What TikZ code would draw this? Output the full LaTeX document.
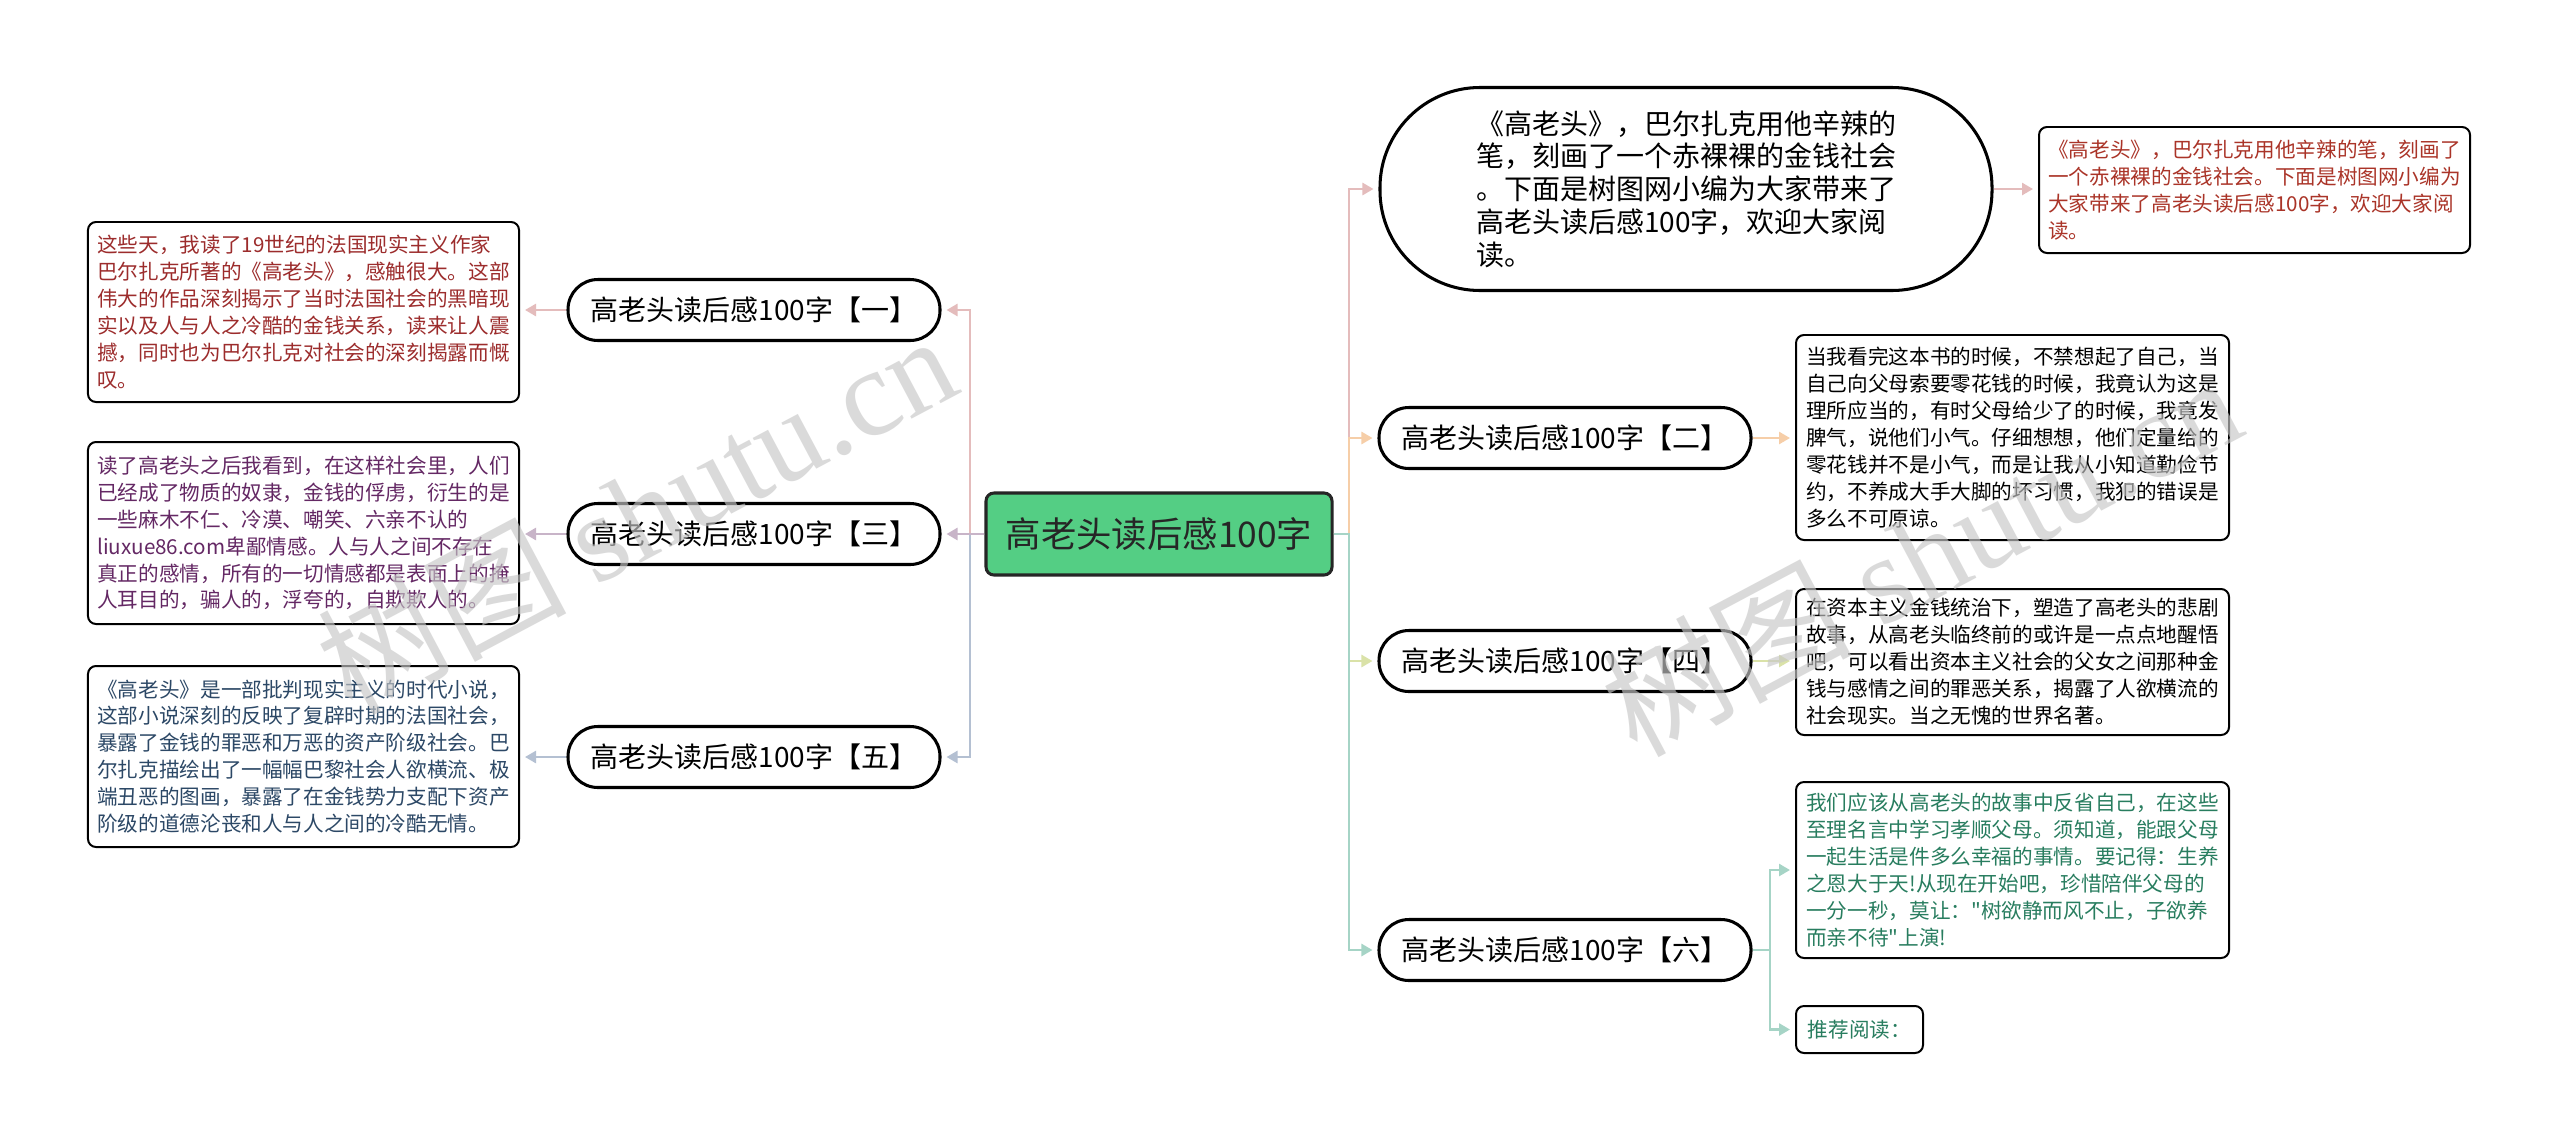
\documentclass[tikz,border=0pt]{standalone}
\usepackage{fontspec}
\setmainfont{Noto Sans CJK SC}
\newfontfamily\cjkplain{Noto Sans CJK SC}
\newfontfamily\wmserif{Liberation Serif}
\usetikzlibrary{arrows.meta}
\definecolor{rootgreen}{RGB}{84,206,132}
\definecolor{linkred}{RGB}{228,188,188}
\definecolor{linkpurple}{RGB}{200,180,200}
\definecolor{linkblue}{RGB}{180,192,210}
\definecolor{linkorange}{RGB}{246,206,168}
\definecolor{linkolive}{RGB}{218,226,168}
\definecolor{linkteal}{RGB}{166,212,198}
\definecolor{textred}{RGB}{156,44,44}
\definecolor{textpurple}{RGB}{100,40,100}
\definecolor{textblue}{RGB}{44,72,102}
\definecolor{textredtop}{RGB}{170,52,40}
\definecolor{textteal}{RGB}{40,125,95}

\begin{document}
\begin{tikzpicture}[x=0.03cm, y=-0.03cm,
    root/.style={draw=black!85, fill=rootgreen, line width=2.6pt, rounded corners=0.24cm,
      minimum width=10.38cm, minimum height=2.46cm, text=black!85,
      font=\fontsize{30.2}{36}\selectfont},
    pill/.style={draw=black, fill=white, line width=2.6pt, rounded corners=0.9cm,
      minimum width=11.16cm, minimum height=1.83cm, font=\fontsize{23.9}{28}\selectfont},
    leaf/.style={draw=black, fill=white, line width=1.7pt, rounded corners=0.24cm,
      align=left, inner xsep=0.25cm, font=\fontsize{17.6}{23}\selectfont},
    conn/.style={line width=2.2pt, -{Triangle[length=0.33cm, width=0.36cm]}, shorten >=0.15cm},
    watermark/.style={text=black!22, opacity=0.65, inner sep=0pt, font=\fontsize{106}{110}\selectfont}]
  \fill[white] (0,0) rectangle (2560,1141);
  \useasboundingbox (0,0) rectangle (2560,1141);

  % centre
  \node[root] (root) at (1159,534) {高老头读后感100字};

  % left branches
  \node[pill] (b1) at (754,310) {高老头读后感100字【一】};
  \node[pill] (b3) at (754,534) {高老头读后感100字【三】};
  \node[pill] (b5) at (754,757) {高老头读后感100字【五】};

  \node[leaf, text=textred, minimum width=12.93cm, minimum height=5.4cm] (l1) at (303.5,312)
    {这些天，我读了19世纪的法国现实主义作家\\巴尔扎克所著的《高老头》，感触很大。这部\\伟大的作品深刻揭示了当时法国社会的黑暗现\\实以及人与人之冷酷的金钱关系，读来让人震\\撼，同时也为巴尔扎克对社会的深刻揭露而慨\\叹。};
  \node[leaf, text=textpurple, minimum width=12.93cm, minimum height=5.46cm] (l3) at (303.5,533)
    {读了高老头之后我看到，在这样社会里，人们\\已经成了物质的奴隶，金钱的俘虏，衍生的是\\一些麻木不仁、冷漠、嘲笑、六亲不认的\\liuxue86.com卑鄙情感。人与人之间不存在\\真正的感情，所有的一切情感都是表面上的掩\\人耳目的，骗人的，浮夸的，自欺欺人的。};
  \node[leaf, text=textblue, minimum width=12.93cm, minimum height=5.43cm] (l5) at (303.5,756.5)
    {《高老头》是一部批判现实主义的时代小说，\\这部小说深刻的反映了复辟时期的法国社会，\\暴露了金钱的罪恶和万恶的资产阶级社会。巴\\尔扎克描绘出了一幅幅巴黎社会人欲横流、极\\端丑恶的图画，暴露了在金钱势力支配下资产\\阶级的道德沦丧和人与人之间的冷酷无情。};

  % right branches
  \node[pill, align=left, minimum width=18.36cm, minimum height=6.09cm, rounded corners=3cm] (top) at (1686,189)
    {《高老头》，巴尔扎克用他辛辣的\\笔，刻画了一个赤裸裸的金钱社会\\。下面是树图网小编为大家带来了\\高老头读后感100字，欢迎大家阅\\读。};
  \node[pill] (b2) at (1565,438) {高老头读后感100字【二】};
  \node[pill] (b4) at (1565,661) {高老头读后感100字【四】};
  \node[pill] (b6) at (1565,950) {高老头读后感100字【六】};

  \node[leaf, text=textredtop, minimum width=12.93cm, minimum height=3.78cm] (ltop) at (2254.5,190)
    {《高老头》，巴尔扎克用他辛辣的笔，刻画了\\一个赤裸裸的金钱社会。下面是树图网小编为\\大家带来了高老头读后感100字，欢迎大家阅\\读。};
  \node[leaf, minimum width=12.99cm, minimum height=6.15cm] (l2) at (2012.5,437.5)
    {当我看完这本书的时候，不禁想起了自己，当\\自己向父母索要零花钱的时候，我竟认为这是\\理所应当的，有时父母给少了的时候，我竟发\\脾气，说他们小气。仔细想想，他们定量给的\\零花钱并不是小气，而是让我从小知道勤俭节\\约，不养成大手大脚的坏习惯，我犯的错误是\\多么不可原谅。};
  \node[leaf, minimum width=12.99cm, minimum height=4.38cm] (l4) at (2012.5,662)
    {在资本主义金钱统治下，塑造了高老头的悲剧\\故事，从高老头临终前的或许是一点点地醒悟\\吧，可以看出资本主义社会的父女之间那种金\\钱与感情之间的罪恶关系，揭露了人欲横流的\\社会现实。当之无愧的世界名著。};
  \node[leaf, text=textteal, minimum width=12.99cm, minimum height=5.28cm] (l6a) at (2012.5,870)
    {我们应该从高老头的故事中反省自己，在这些\\至理名言中学习孝顺父母。须知道，能跟父母\\一起生活是件多么幸福的事情。要记得：生养\\之恩大于天!从现在开始吧，珍惜陪伴父母的\\一分一秒，莫让：{\cjkplain"}树欲静而风不止，子欲养\\而亲不待{\cjkplain"}上演!};
  \node[leaf, text=textteal, minimum width=3.81cm, minimum height=1.41cm] (l6b) at (1859.5,1029.5) {推荐阅读：};

  % connectors
  \coordinate (lt) at (970,534);
  \coordinate (rt) at (1349,534);
  \coordinate (sixt) at (1770,950);
  \foreach \b/\l/\col in {b1/l1/linkred, b5/l5/linkblue, b3/l3/linkpurple}{
    \draw[conn, \col] (root.west) -- (lt) |- (\b.east);
    \draw[conn, \col] (\b.west) -- (\b.west -| \l.east);
  }
  \foreach \b/\col in {top/linkred, b2/linkorange, b4/linkolive, b6/linkteal}
    \draw[conn, \col] (root.east) -- (rt) |- (\b.west);
  \draw[conn, linkred] (top.east) -- (top.east -| ltop.west);
  \draw[conn, linkorange] (b2.east) -- (b2.east -| l2.west);
  \draw[conn, linkolive] (b4.east) -- (b4.east -| l4.west);
  \draw[conn, linkteal] (b6.east) -- (sixt) |- (l6a.west);
  \draw[conn, linkteal] (b6.east) -- (sixt) |- (l6b.west);

  % watermark
  \node[watermark, rotate=28] (wm1) at (636,512) {树图 {\wmserif shutu.cn}};
  \node[watermark, rotate=28] (wm2) at (1921,554) {树图 {\wmserif shutu.cn}};
\end{tikzpicture}
\end{document}
